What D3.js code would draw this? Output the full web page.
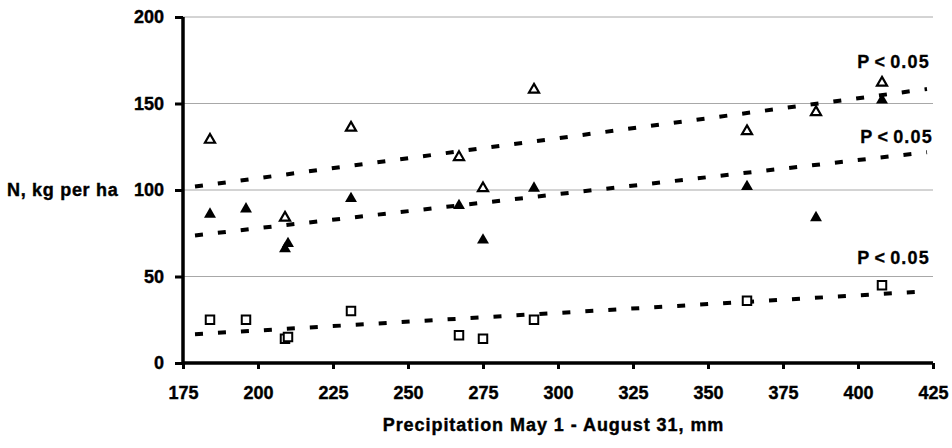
<!DOCTYPE html>
<html>
<head>
<meta charset="utf-8">
<script src="https://cdn.jsdelivr.net/npm/d3@7"></script>
<style>
  body { margin: 0; background: #fff; }
  svg { display: block; font-family: "Liberation Sans", Arial, sans-serif; }
</style>
</head>
<body>
<svg id="chart" width="952" height="448"></svg>
<script>
// Precipitation (mm) and N (kg/ha) for each treatment
const openTriX = [184, 209, 231, 267, 275, 292, 363, 386, 408];
const openTriY = [129, 84, 136, 119, 101, 158, 134, 145, 162];

const fillTriX = [184, 196, 209, 210, 231, 267, 275, 292, 363, 386, 408];
const fillTriY = [86, 89, 66, 69, 95, 91, 71, 101, 102, 84, 152];

const squareX = [184, 196, 209, 210, 231, 267, 275, 292, 363, 408];
const squareY = [25, 25, 14, 15, 30, 16, 14, 25, 36, 45];

// Linear fits: [intercept, slope]
const fitOpenTri = [60.65, 0.231];
const fitFillTri = [38.5, 0.197];
const fitSquare = [-1.52, 0.1016];
const fitRange = [179, 423];
const fitLabels = ["P<0.05", "P<0.05", "P<0.05"];

const xTicks = [175, 200, 225, 250, 275, 300, 325, 350, 375, 400, 425];
const yTicks = [0, 50, 100, 150, 200];
const gridValues = [50, 100, 150, 200];

const svg = d3.select("#chart");
const margin = { left: 183, top: 17, right: 19, bottom: 85 };
const W = 952 - margin.left - margin.right;
const H = 448 - margin.top - margin.bottom;

const x = d3.scaleLinear().domain([175, 425]).range([0, W]);
const y = d3.scaleLinear().domain([0, 200]).range([H, 0]);

const g = svg.append("g").attr("transform", `translate(${margin.left},${margin.top})`);

// horizontal gridlines
g.selectAll("line.grid").data(gridValues).join("line")
  .attr("class", "grid")
  .attr("x1", 0).attr("x2", W)
  .attr("y1", d => y(d)).attr("y2", d => y(d))
  .attr("stroke", "#a8a8a8").attr("stroke-width", 1);

// fitted lines
const fits = [fitOpenTri, fitFillTri, fitSquare];
const line = d3.line().x(d => x(d[0])).y(d => y(d[1]));
fits.forEach(f => {
  g.append("path")
    .datum(fitRange.map(v => [v, f[0] + f[1] * v]))
    .attr("d", line)
    .attr("fill", "none")
    .attr("stroke", "#000")
    .attr("stroke-width", 4)
    .attr("stroke-dasharray", "8,15");
});

// markers
const triOpen = d3.symbol().type(d3.symbolTriangle).size(44)();
const triFill = d3.symbol().type(d3.symbolTriangle).size(62)();
const sq = d3.symbol().type(d3.symbolSquare).size(72)();

g.selectAll("path.sq").data(squareX.map((v, i) => [v, squareY[i]])).join("path")
  .attr("class", "sq")
  .attr("d", sq)
  .attr("transform", d => `translate(${x(d[0])},${y(d[1])})`)
  .attr("fill", "#fff").attr("stroke", "#000").attr("stroke-width", 2);

g.selectAll("path.tf").data(fillTriX.map((v, i) => [v, fillTriY[i]])).join("path")
  .attr("class", "tf")
  .attr("d", triFill)
  .attr("transform", d => `translate(${x(d[0])},${y(d[1])})`)
  .attr("fill", "#000");

g.selectAll("path.to").data(openTriX.map((v, i) => [v, openTriY[i]])).join("path")
  .attr("class", "to")
  .attr("d", triOpen)
  .attr("transform", d => `translate(${x(d[0])},${y(d[1])})`)
  .attr("fill", "#fff").attr("stroke", "#000").attr("stroke-width", 2.2);

// significance labels at the right end of each fit
const labelAt = [[424, 170.5], [425, 127.2], [424, 57.2]];
const pl = g.selectAll("text.p").data(fitLabels).join("text")
  .attr("class", "p")
  .attr("x", (d, i) => x(labelAt[i][0]))
  .attr("y", (d, i) => y(labelAt[i][1]))
  .attr("text-anchor", "end")
  .attr("font-size", 18).attr("font-weight", "bold")
  .attr("letter-spacing", 1.2)
  .attr("stroke", "#000").attr("stroke-width", 0.3);
pl.append("tspan").text(d => d.slice(0, 1));
pl.append("tspan").attr("dx", 4).text(d => d.slice(1, 2));
pl.append("tspan").attr("dx", 4).text(d => d.slice(2));

// axes
const xAxis = g.append("g").attr("transform", `translate(0,${H})`)
  .call(d3.axisBottom(x).tickValues(xTicks).tickSize(6).tickPadding(17));
const yAxis = g.append("g")
  .call(d3.axisLeft(y).tickValues(yTicks).tickSize(8).tickPadding(11));

[xAxis, yAxis].forEach(a => {
  a.select(".domain").attr("stroke", "#000").attr("stroke-width", 3.5);
  a.selectAll(".tick line").attr("stroke", "#000").attr("stroke-width", 3);
  a.selectAll(".tick text")
    .attr("font-size", 18).attr("font-weight", "bold")
    .attr("font-family", "'Liberation Sans', Arial, sans-serif")
    .attr("fill", "#000")
    .attr("stroke", "#000").attr("stroke-width", 0.4);
});
// straight axis lines without end caps
xAxis.select(".domain").attr("d", `M0,0H${W}`);
yAxis.select(".domain").attr("d", `M0,0V${H}`);

// axis titles
svg.append("text")
  .attr("x", 7).attr("y", y(100) + margin.top + 6)
  .attr("font-size", 18).attr("font-weight", "bold")
  .attr("letter-spacing", 0.7)
  .attr("stroke", "#000").attr("stroke-width", 0.4)
  .text("N, kg per ha");

svg.append("text")
  .attr("x", margin.left + x(298.5)).attr("y", 431)
  .attr("text-anchor", "middle")
  .attr("font-size", 18).attr("font-weight", "bold")
  .attr("letter-spacing", 0.95)
  .attr("stroke", "#000").attr("stroke-width", 0.4)
  .text("Precipitation May 1 - August 31, mm");
</script>
</body>
</html>
